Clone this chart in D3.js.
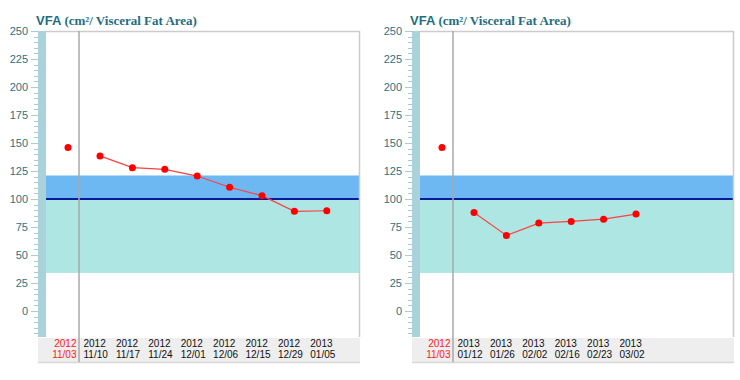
<!DOCTYPE html>
<html><head><meta charset="utf-8">
<script src="https://cdn.jsdelivr.net/npm/d3@7"></script>
<style>body{margin:0;background:#fff}svg{display:block}</style>
</head><body>
<svg id="c" width="740" height="380"></svg>
<script>
const yTicks = [0,25,50,75,100,125,150,175,200,225,250];
const baseLabel = ["2012","11/03"];
const baseValue = 146;
const leftYears = ["2012","2012","2012","2012","2012","2012","2012","2013"];
const leftDates = ["11/10","11/17","11/24","12/01","12/06","12/15","12/29","01/05"];
const leftValues = [138.5,128,126.5,120.5,110.5,103,89,89.5];
const rightYears = ["2013","2013","2013","2013","2013","2013"];
const rightDates = ["01/12","01/26","02/02","02/16","02/23","03/02"];
const rightValues = [88,67.5,78.5,80,82,86.5];
const bandUpper = [100,121];
const bandLower = [34,100];
const refLine = 100;
const titleMain = "VFA ";
const titleSub = "(cm²/ Visceral Fat Area)";

const svg = d3.select("#c");
const y = d3.scaleLinear().domain([0,250]).range([311,31]);
const plotL=46, plotR=359, plotT=31, plotB=337, stripL=38, divX=79;
const step=32.4, firstX=100, baseX=68;

function panel(ox, years, dates, values){
  const g = svg.append("g").attr("transform",`translate(${ox},0)`);
  // title
  const t = g.append("text").attr("x",36).attr("y",25).attr("fill","#1f6e7e").attr("font-weight","bold").attr("font-size",13);
  t.append("tspan").attr("font-family","Liberation Sans, Arial, sans-serif").text(titleMain);
  t.append("tspan").attr("font-family","Liberation Serif, Times New Roman, serif").text(titleSub);
  // strip
  g.append("rect").attr("x",stripL).attr("y",plotT).attr("width",plotL-stripL).attr("height",plotB-plotT).attr("fill","#aad2da");
  // plot bg
  g.append("rect").attr("x",plotL).attr("y",plotT).attr("width",plotR-plotL).attr("height",plotB-plotT).attr("fill","#fff");
  // bands
  g.append("rect").attr("x",plotL).attr("width",plotR-plotL).attr("y",y(bandUpper[1])).attr("height",y(bandUpper[0])-y(bandUpper[1])).attr("fill","#6db8f2");
  g.append("rect").attr("x",plotL).attr("width",plotR-plotL).attr("y",y(bandLower[1])).attr("height",y(bandLower[0])-y(bandLower[1])).attr("fill","#ade6e2");
  g.append("line").attr("x1",plotL).attr("x2",plotR).attr("y1",y(refLine)).attr("y2",y(refLine)).attr("stroke","#0a1a9a").attr("stroke-width",2);
  // frame
  g.append("path").attr("d",`M${plotL},${plotT+0.5}H${plotR+0.5}V${plotB}`).attr("fill","none").attr("stroke","#cccccc").attr("stroke-width",1.5);
  // label band
  g.append("rect").attr("x",stripL).attr("y",plotB+1).attr("width",plotR+1-stripL).attr("height",24).attr("fill","#eeeeee");
  g.append("line").attr("x1",stripL).attr("x2",plotR+1).attr("y1",plotB+25.5).attr("y2",plotB+25.5).attr("stroke","#d8d8d8").attr("stroke-width",1.5);
  // divider
  g.append("line").attr("x1",divX).attr("x2",divX).attr("y1",plotT).attr("y2",plotB+25).attr("stroke","#a8a8a8").attr("stroke-width",1.5);
  // axis ticks
  const minor = d3.range(-20,251,5);
  g.selectAll(".mn").data(minor).join("line").attr("x1",d=>d%25===0?31:34).attr("x2",38)
    .attr("y1",d=>Math.round(y(d))+0.5).attr("y2",d=>Math.round(y(d))+0.5).attr("stroke","#a9cdd4").attr("stroke-width",1);
  g.selectAll(".tl").data(yTicks).join("text").attr("x",28).attr("y",d=>y(d)+4).attr("text-anchor","end")
    .attr("font-family","Liberation Sans, Arial, sans-serif").attr("font-size",11).attr("fill","#2e7282").text(d=>d);
  // x scale
  const x = d3.scalePoint().domain(d3.range(values.length)).range([firstX, firstX+(values.length-1)*step]);
  // labels
  const lbl = g.append("g").attr("font-family","Liberation Sans, Arial, sans-serif").attr("font-size",10);
  lbl.append("text").attr("x",divX-2.5).attr("y",plotB+10).attr("text-anchor","end").attr("fill","#ff2020").text(baseLabel[0]);
  lbl.append("text").attr("x",divX-2.5).attr("y",plotB+21).attr("text-anchor","end").attr("fill","#ff2020").text(baseLabel[1]);
  lbl.selectAll(".yr").data(years).join("text").attr("x",(d,i)=>x(i)-16.5).attr("y",plotB+10).attr("fill","#111").text(d=>d);
  lbl.selectAll(".dt").data(dates).join("text").attr("x",(d,i)=>x(i)-16.5).attr("y",plotB+21).attr("fill","#111").text(d=>d);
  // line
  g.append("path").datum(values).attr("fill","none").attr("stroke","#ff4040").attr("stroke-width",1.2)
    .attr("d",d3.line().x((d,i)=>x(i)).y(d=>y(d)));
  g.selectAll(".pt").data(values).join("circle").attr("cx",(d,i)=>x(i)).attr("cy",d=>y(d)).attr("r",3.5).attr("fill","#ff0000");
  g.append("circle").attr("cx",baseX).attr("cy",y(baseValue)).attr("r",3.5).attr("fill","#ff0000");
}
panel(0, leftYears, leftDates, leftValues);
panel(374, rightYears, rightDates, rightValues);
</script>
</body></html>
